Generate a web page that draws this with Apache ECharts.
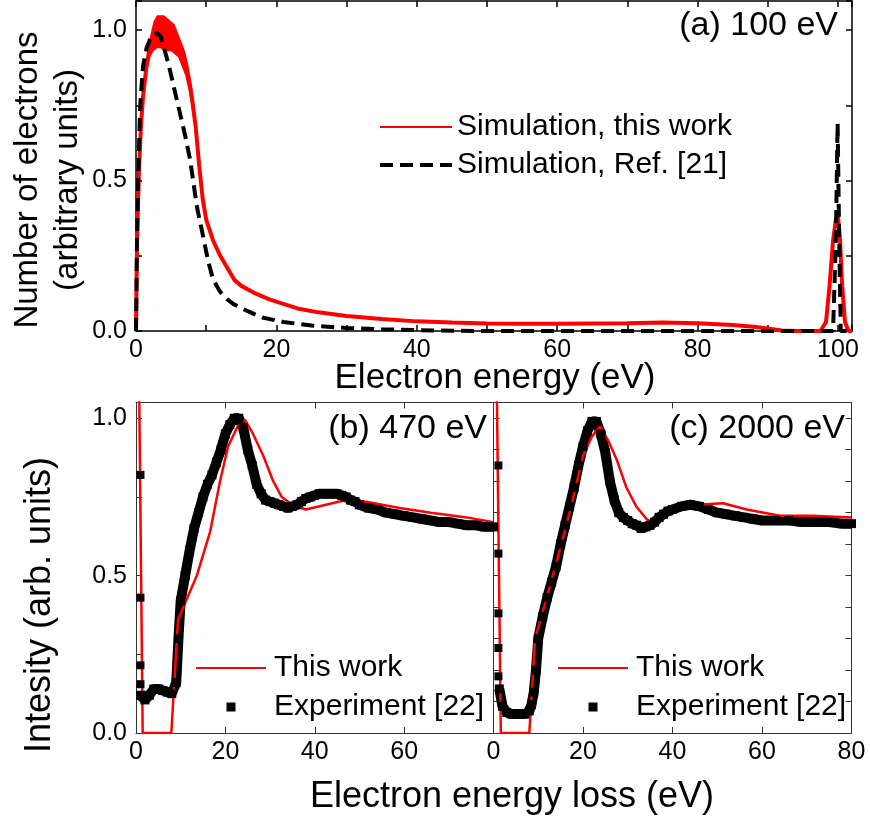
<!DOCTYPE html>
<html><head><meta charset="utf-8">
<script src="https://cdn.jsdelivr.net/npm/echarts@6/dist/echarts.min.js"></script>
<style>html,body{margin:0;padding:0;background:#fff}#c{width:870px;height:818px}</style>
</head><body><div id="c"></div>
<script>
// ---------- (a) 100 eV ----------
const aRedE = [0,0.15,0.4,0.7,1.0,1.5,2.0,2.5,3,3.5,4,4.5,5,5.5,6,6.5,7,7.5,8,8.5,9,9.5,10,11,12,13,14,15,17,19,21,23,26,30,35,40,45,50,55,60,65,70,75,80,85,88,90,92,94,97.5,98.3,98.8,99.3,99.7,100,100.3,100.6,101,101.5,102];
const aRedY = [0,0.3,0.52,0.68,0.78,0.88,0.94,0.97,0.99,1.0,1.0,0.99,0.98,0.97,0.95,0.92,0.89,0.84,0.77,0.68,0.55,0.44,0.37,0.3,0.25,0.21,0.17,0.15,0.125,0.105,0.09,0.075,0.062,0.05,0.04,0.032,0.028,0.025,0.024,0.024,0.025,0.026,0.028,0.026,0.02,0.014,0.008,0.002,0,0,0.03,0.15,0.3,0.37,0.38,0.3,0.15,0.03,0,0];
// noise envelope of the red curve around its maximum
const aBandE = [1.5,2,2.5,3,3.5,4,4.5,5,5.5,6,6.5,7,7.5,8,8.5];
const aBandLow = [0.85,0.91,0.93,0.94,0.94,0.93,0.93,0.93,0.92,0.91,0.88,0.85,0.8,0.73,0.64];
const aBandHigh = [0.92,0.98,1.03,1.05,1.05,1.05,1.04,1.03,1.02,0.99,0.96,0.93,0.88,0.81,0.72];
const aRefE = [0,0.15,0.3,0.6,1,1.5,2,2.5,3,3.5,4,4.6,5.5,6.3,7,7.7,8.2,8.7,9.6,10.3,11,12,13,14,16,18,21,25,30,35,40,45,50,99.3,99.7,99.95,100.15,100.4,102];
const aRefY = [0,0.3,0.5,0.75,0.88,0.94,0.97,0.985,0.99,0.98,0.94,0.89,0.8,0.72,0.65,0.57,0.49,0.41,0.31,0.23,0.17,0.13,0.105,0.088,0.065,0.045,0.03,0.018,0.01,0.006,0.003,0.001,0,0,0.3,0.69,0.35,0,0];

// ---------- (b) 470 eV ----------
const bSimE = [0.6,1.5,7.9,9.4,11.5,13.6,16.6,18.8,20.6,22.6,24.4,26.2,28.5,30.7,32.6,35,38,42.5,47,51.5,59,66,74,80];
const bSimY = [1.24,0,0,0.36,0.43,0.5,0.64,0.8,0.91,0.97,0.995,0.95,0.88,0.8,0.75,0.725,0.71,0.725,0.74,0.735,0.715,0.7,0.685,0.67];
const bExpE = [1,2,3,4,5,6,7,8,9,9.5,10,11,12,13,14,15,16,17,18,19,20,21,22,23,24,25,26,27,28,29,30,31,32,33,34,35,36,37,38,39,40,41,42,43,44,45,46,47,48,49,50,52,54,56,58,60,62,64,66,68,70,72,74,76,78,80];
const bExpY = [0.12,0.105,0.12,0.14,0.14,0.135,0.13,0.125,0.16,0.3,0.42,0.5,0.58,0.65,0.7,0.75,0.79,0.82,0.86,0.9,0.95,0.98,1.0,1.0,0.97,0.9,0.85,0.79,0.76,0.74,0.735,0.73,0.725,0.72,0.715,0.72,0.725,0.735,0.745,0.75,0.755,0.76,0.76,0.76,0.76,0.76,0.755,0.75,0.74,0.735,0.725,0.715,0.71,0.7,0.695,0.69,0.685,0.68,0.675,0.67,0.67,0.665,0.66,0.66,0.655,0.655];
const bExpPeakE = [1.0,1.0,1.0,1.0];
const bExpPeakY = [0.82,0.43,0.215,0.155];

// ---------- (c) 2000 eV ----------
const cSimE = [0.65,1.64,8.0,9.3,11.9,14.8,17.7,20,21.9,23.8,25.6,27.5,29.7,31.9,34.2,35.3,37.9,41.7,45.4,51.3,56.6,64,71.4,80];
const cSimY = [1.2,0,0,0.3,0.43,0.58,0.74,0.88,0.94,0.975,0.93,0.87,0.78,0.72,0.68,0.67,0.69,0.715,0.725,0.73,0.71,0.69,0.69,0.685];
const cExpE = [1.3,2,3,4,5,6,7,8,8.5,9,9.5,10,11,12,13,14,15,16,17,18,19,20,21,22,23,24,25,26,27,28,29,30,31,32,33,34,35,36,37,38,39,40,42,44,46,48,50,52,54,56,58,60,63,66,69,72,75,78,80];
const cExpY = [0.14,0.085,0.065,0.06,0.06,0.06,0.06,0.07,0.09,0.13,0.2,0.3,0.37,0.43,0.48,0.53,0.6,0.66,0.72,0.78,0.85,0.91,0.96,0.99,0.99,0.95,0.89,0.8,0.74,0.7,0.685,0.675,0.665,0.66,0.65,0.655,0.66,0.67,0.685,0.695,0.705,0.71,0.72,0.725,0.72,0.71,0.7,0.695,0.69,0.685,0.68,0.675,0.675,0.675,0.67,0.67,0.67,0.665,0.665];
const cExpPeakE = [1.1,1.1,1.1,1.1,1.1];
const cExpPeakY = [0.85,0.57,0.38,0.27,0.18];

// ---------- tick labels ----------
const topXLabels = [0,20,40,60,80,100];
const bXLabels = [0,20,40,60];
const cXLabels = [0,20,40,60,80];
const yLabels = [0,0.5,1.0];

const FONT = 'Liberation Sans';
const pairs = (xs, ys) => xs.map((x, i) => [x, ys[i]]);
const has = (list, v) => list.some(t => Math.abs(t - v) < 1e-6);

function xAxis(grid, pos, min, max, interval, labels, color, lw) {
  return {
    type: 'value', gridIndex: grid, position: pos, min, max, interval,
    axisLine: {show: true, onZero: false, lineStyle: {color, width: lw}},
    axisTick: {show: true, inside: true, length: 6, lineStyle: {color, width: lw}},
    axisLabel: {show: !!labels, margin: 7, color: '#000', fontFamily: FONT, fontSize: 25,
      formatter: v => labels && has(labels, v) ? String(v) : ''},
    splitLine: {show: false}
  };
}
function yAxis(grid, pos, max, interval, labels, color, lw, ticks) {
  return {
    type: 'value', gridIndex: grid, position: pos, min: 0, max, interval,
    axisLine: {show: true, onZero: false, lineStyle: {color, width: lw}},
    axisTick: {show: ticks, inside: true, length: 6, lineStyle: {color, width: lw}},
    axisLabel: {show: !!labels, margin: 9, color: '#000', fontFamily: FONT, fontSize: 25,
      formatter: v => labels && has(labels, v) ? v.toFixed(1) : ''},
    splitLine: {show: false}
  };
}

const RED = '#ff0000';
const GRAY = '#333';
const legendText = {fontFamily: FONT, fontSize: 30, color: '#000'};
const squareIcon = 'path://M0 0H10V10H0Z';
const noDot = {opacity: 0};

const option = {
  animation: false,
  backgroundColor: '#fff',
  grid: [
    {left: 136, top: 1, width: 716, height: 330},
    {left: 136, top: 402.5, width: 357.5, height: 330.5},
    {left: 493.5, top: 402.5, width: 358, height: 330.5}
  ],
  xAxis: [
    xAxis(0, 'bottom', 0, 102, 10, topXLabels, '#000', 1.5),
    xAxis(0, 'top', 0, 102, 10, null, '#000', 1.5),
    xAxis(1, 'bottom', 0, 80, 20, bXLabels, GRAY, 1),
    xAxis(1, 'top', 0, 80, 20, null, GRAY, 1),
    xAxis(2, 'bottom', 0, 80, 20, cXLabels, GRAY, 1),
    xAxis(2, 'top', 0, 80, 20, null, GRAY, 1)
  ],
  yAxis: [
    yAxis(0, 'left', 1.097, 0.25, yLabels, '#000', 1.5, true),
    yAxis(0, 'right', 1.097, 0.25, null, '#000', 1.5, true),
    yAxis(1, 'left', 1.05, 0.25, yLabels, GRAY, 1, true),
    yAxis(1, 'right', 1.05, 0.25, null, GRAY, 1, false),
    yAxis(2, 'left', 1.05, 0.1, null, GRAY, 1, true),
    yAxis(2, 'right', 1.05, 0.1, null, GRAY, 1, true)
  ],
  legend: [
    {left: 378, top: 112, padding: 0, orient: 'vertical', align: 'left', itemWidth: 72, itemHeight: 12, itemGap: 8,
      selectedMode: false, textStyle: legendText,
      data: [{name: 'Simulation, this work', lineStyle: {width: 2}, itemStyle: noDot},
             {name: 'Simulation, Ref. [21]', lineStyle: {width: 4}, itemStyle: noDot}]},
    {left: 195, top: 653, padding: 0, orient: 'vertical', align: 'left', itemWidth: 70, itemHeight: 9, itemGap: 9,
      selectedMode: false, textStyle: Object.assign({padding: [0,0,0,3]}, legendText),
      data: [{name: 'This work', lineStyle: {width: 2}, itemStyle: noDot}, {name: 'Experiment [22]', icon: squareIcon}]},
    {left: 557, top: 653, padding: 0, orient: 'vertical', align: 'left', itemWidth: 70, itemHeight: 9, itemGap: 9,
      selectedMode: false, textStyle: Object.assign({padding: [0,0,0,3]}, legendText),
      data: [{name: 'This work', lineStyle: {width: 2}, itemStyle: noDot}, {name: 'Experiment [22]', icon: squareIcon}]}
  ],
  series: [
    // (a) noise band of the red curve, drawn as a polygon through the axes' scales
    {type: 'custom', name: 'band', xAxisIndex: 0, yAxisIndex: 0, silent: true, data: [0],
      renderItem: (params, api) => {
        const up = aBandE.map((e, i) => api.coord([e, aBandHigh[i]]));
        const lo = aBandE.map((e, i) => api.coord([e, aBandLow[i]])).reverse();
        return {type: 'polygon', shape: {points: up.concat(lo)}, style: {fill: RED}};
      }},
    {type: 'line', name: 'Simulation, this work', xAxisIndex: 0, yAxisIndex: 0, symbol: 'none',
      lineStyle: {color: RED, width: 4}, itemStyle: {color: RED}, data: pairs(aRedE, aRedY)},
    {type: 'line', name: 'Simulation, Ref. [21]', xAxisIndex: 0, yAxisIndex: 0, symbol: 'none',
      lineStyle: {color: '#000', width: 4, type: [13, 7], cap: 'butt'}, itemStyle: {color: '#000'},
      data: pairs(aRefE, aRefY)},
    // (b)
    {type: 'line', name: 'Experiment [22]', xAxisIndex: 2, yAxisIndex: 2, symbol: 'rect', symbolSize: 9,
      showSymbol: true, lineStyle: {color: '#000', width: 10}, itemStyle: {color: '#000'},
      data: pairs(bExpE, bExpY)},
    {type: 'scatter', name: 'Experiment [22]', xAxisIndex: 2, yAxisIndex: 2, symbol: 'rect', symbolSize: 8,
      z: 5, itemStyle: {color: '#000', opacity: 1}, data: pairs(bExpPeakE, bExpPeakY)},
    {type: 'line', name: 'This work', xAxisIndex: 2, yAxisIndex: 2, symbol: 'none',
      lineStyle: {color: RED, width: 2.5}, itemStyle: {color: RED}, data: pairs(bSimE, bSimY)},
    // (c)
    {type: 'line', name: 'Experiment [22]', xAxisIndex: 4, yAxisIndex: 4, symbol: 'rect', symbolSize: 9,
      showSymbol: true, lineStyle: {color: '#000', width: 10}, itemStyle: {color: '#000'},
      data: pairs(cExpE, cExpY)},
    {type: 'scatter', name: 'Experiment [22]', xAxisIndex: 4, yAxisIndex: 4, symbol: 'rect', symbolSize: 8,
      z: 5, itemStyle: {color: '#000', opacity: 1}, data: pairs(cExpPeakE, cExpPeakY)},
    {type: 'line', name: 'This work', xAxisIndex: 4, yAxisIndex: 4, symbol: 'none',
      lineStyle: {color: RED, width: 2.5}, itemStyle: {color: RED}, data: pairs(cSimE, cSimY)}
  ],
  graphic: [
    {type: 'text', right: 870 - 838, top: 9, style: {text: '(a) 100 eV', font: `34px "${FONT}"`, fill: '#000'}},
    {type: 'text', right: 870 - 487, top: 412, style: {text: '(b) 470 eV', font: `34px "${FONT}"`, fill: '#000'}},
    {type: 'text', right: 870 - 845, top: 412, style: {text: '(c) 2000 eV', font: `34px "${FONT}"`, fill: '#000'}},
    {type: 'text', x: 28, y: 180, rotation: Math.PI / 2,
      style: {text: 'Number of electrons', font: `33px "${FONT}"`, fill: '#000', textAlign: 'center', textVerticalAlign: 'middle'}},
    {type: 'text', x: 68, y: 180, rotation: Math.PI / 2,
      style: {text: '(arbitrary units)', font: `33px "${FONT}"`, fill: '#000', textAlign: 'center', textVerticalAlign: 'middle'}},
    {type: 'text', x: 495, y: 378,
      style: {text: 'Electron energy (eV)', font: `35px "${FONT}"`, fill: '#000', textAlign: 'center', textVerticalAlign: 'middle'}},
    {type: 'text', x: 40, y: 605, rotation: Math.PI / 2,
      style: {text: 'Intesity (arb. units)', font: `36px "${FONT}"`, fill: '#000', textAlign: 'center', textVerticalAlign: 'middle'}},
    {type: 'text', x: 512, y: 797,
      style: {text: 'Electron energy loss (eV)', font: `36px "${FONT}"`, fill: '#000', textAlign: 'center', textVerticalAlign: 'middle'}}
  ]
};

const chart = echarts.init(document.getElementById('c'), null, {renderer: 'canvas'});
chart.setOption(option);
</script>
</body></html>
